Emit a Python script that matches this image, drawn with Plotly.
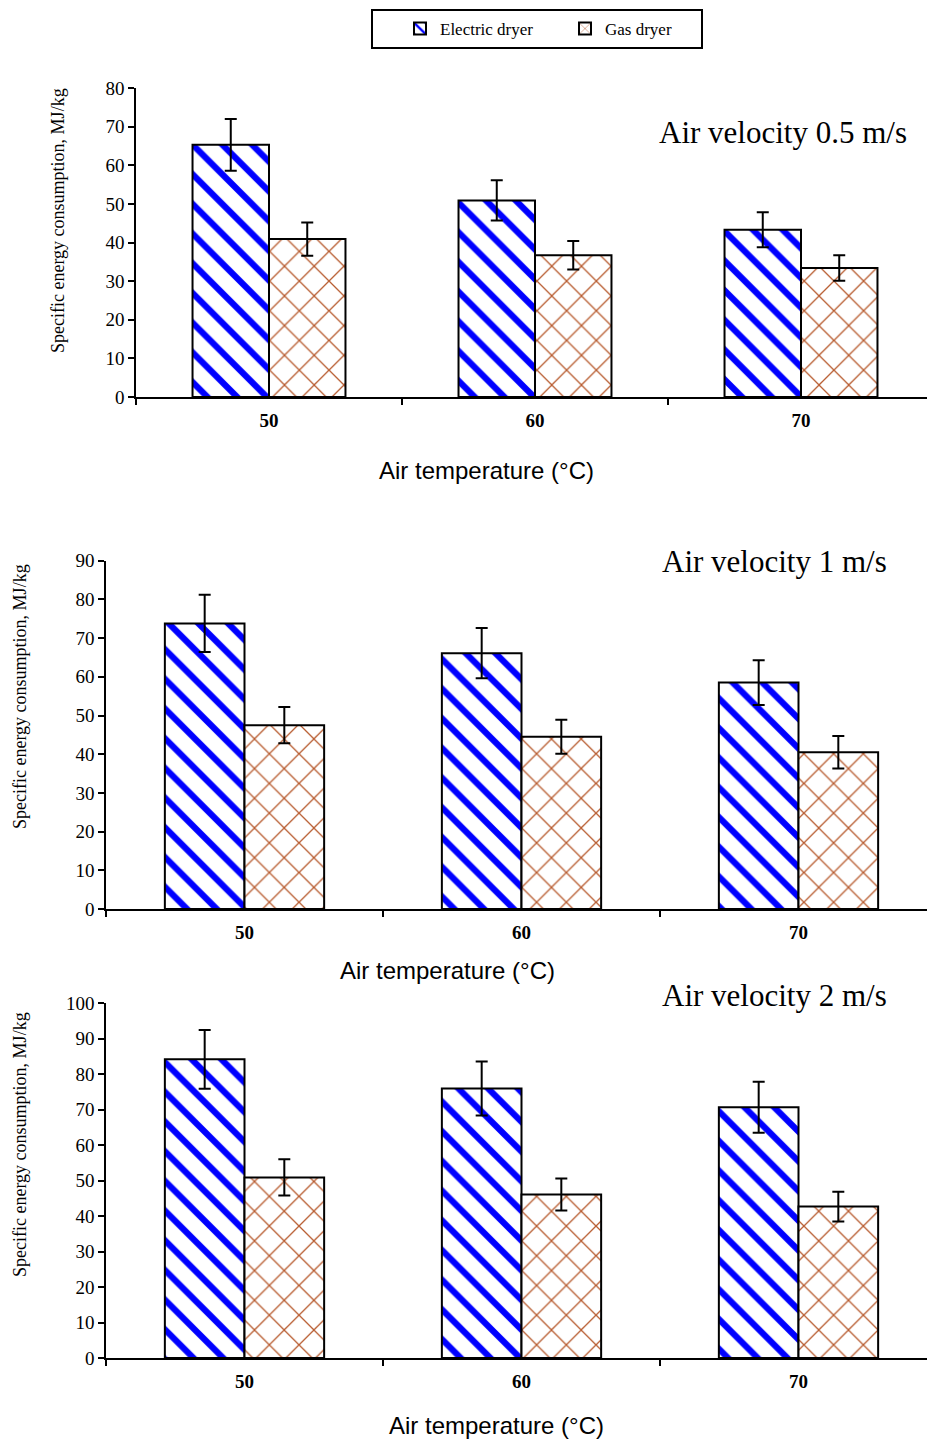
import plotly.graph_objects as go

# ---- data ----
temperatures = ["50", "60", "70"]
series_names = ["Electric dryer", "Gas dryer"]

electric_v05 = [65.3, 50.9, 43.3]
electric_v05_err = [6.7, 5.2, 4.5]
gas_v05 = [40.9, 36.7, 33.4]
gas_v05_err = [4.3, 3.7, 3.3]

electric_v1 = [73.8, 66.1, 58.5]
electric_v1_err = [7.4, 6.5, 5.8]
gas_v1 = [47.5, 44.5, 40.5]
gas_v1_err = [4.7, 4.4, 4.2]

electric_v2 = [84.2, 76.0, 70.7]
electric_v2_err = [8.3, 7.6, 7.2]
gas_v2 = [50.9, 46.1, 42.7]
gas_v2_err = [5.1, 4.5, 4.2]

panel_titles = ["Air velocity 0.5 m/s", "Air velocity 1 m/s", "Air velocity 2 m/s"]
y_title = "Specific energy consumption, MJ/kg"
x_title = "Air temperature (°C)"
y_max = [80, 90, 100]

# ---- figure geometry ----
W, H = 927, 1441
def px(x):
    return x / W
def py(y):
    return 1 - y / H

SERIF = "Liberation Serif, Times New Roman, serif"
SANS = "Liberation Sans, Arial, sans-serif"

electric_style = dict(color="white", line=dict(color="black", width=2),
                      pattern=dict(shape="\\", fgcolor="#0000FF", bgcolor="white",
                                   size=21, solidity=0.3, fillmode="replace"))
gas_style = dict(color="white", line=dict(color="black", width=2),
                 pattern=dict(shape="x", fgcolor="#B85C30", bgcolor="white",
                              size=21, solidity=0.12, fillmode="replace"))
err_style = dict(type="data", color="black", thickness=2, width=6, visible=True)

panels = [
    (electric_v05, electric_v05_err, gas_v05, gas_v05_err),
    (electric_v1, electric_v1_err, gas_v1, gas_v1_err),
    (electric_v2, electric_v2_err, gas_v2, gas_v2_err),
]

fig = go.Figure()
for i, (ev, ee, gv, ge) in enumerate(panels):
    sfx = "" if i == 0 else str(i + 1)
    fig.add_trace(go.Bar(x=temperatures, y=ev, name=series_names[0],
                         marker=electric_style, error_y=dict(array=ee, **err_style),
                         xaxis="x" + sfx, yaxis="y" + sfx, showlegend=(i == 0),
                         legendgroup="e"))
    fig.add_trace(go.Bar(x=temperatures, y=gv, name=series_names[1],
                         marker=gas_style, error_y=dict(array=ge, **err_style),
                         xaxis="x" + sfx, yaxis="y" + sfx, showlegend=(i == 0),
                         legendgroup="g"))

# panel layout: (y-axis pixel x, top pixel, bottom pixel, category width px)
geo = [(136, 88, 397, 266), (106, 560.7, 909, 277), (106, 1003.3, 1358, 277)]

layout = dict(width=W, height=H,
              margin=dict(l=0, r=0, t=0, b=0, pad=0, autoexpand=False),
              plot_bgcolor="white", paper_bgcolor="white",
              barmode="group", bargap=0.425, bargroupgap=0,
              legend=dict(orientation="h", x=px(537), y=py(29), xanchor="center",
                          yanchor="middle", bordercolor="black", borderwidth=2,
                          font=dict(family=SERIF, size=17, color="black"),
                          entrywidth=91, indentation=29, bgcolor="white"))

for i, (ax_x, top, bot, cw) in enumerate(geo):
    sfx = "" if i == 0 else str(i + 1)
    xr_end = -0.5 + (W - ax_x) / cw
    layout["xaxis" + sfx] = dict(domain=[px(ax_x), 1], anchor="y" + sfx, type="category",
                                 range=[-0.5, xr_end], showline=True, linecolor="black",
                                 linewidth=1.5, ticks="outside", ticklen=6, tickwidth=1.5,
                                 tickcolor="black", tickson="boundaries", showgrid=False,
                                 ticklabelstandoff=5, automargin=False,
                                 tickfont=dict(family=SERIF, size=19, color="black",
                                               weight="bold"))
    layout["yaxis" + sfx] = dict(domain=[py(bot), py(top)], anchor="x" + sfx,
                                 range=[0, y_max[i]], dtick=10, showline=True,
                                 linecolor="black", linewidth=1.5, ticks="outside",
                                 ticklen=6, tickwidth=1.5, tickcolor="black",
                                 showgrid=False, zeroline=False, automargin=False,
                                 tickfont=dict(family=SERIF, size=19, color="black"))

fig.update_layout(**layout)

annotations = []
ytitle_pos = [(58, 221), (20, 697), (20, 1145)]
xtitle_pos = [(486, 471), (447, 970), (496, 1425)]
ptitle_pos = [(783, 133), (774, 561), (774, 995)]
for i in range(3):
    annotations.append(dict(text=y_title, x=px(ytitle_pos[i][0]), y=py(ytitle_pos[i][1]),
                            xref="paper", yref="paper", showarrow=False, textangle=-90,
                            xanchor="center", yanchor="middle",
                            font=dict(family=SERIF, size=18, color="black")))
    annotations.append(dict(text=x_title, x=px(xtitle_pos[i][0]), y=py(xtitle_pos[i][1]),
                            xref="paper", yref="paper", showarrow=False,
                            xanchor="center", yanchor="middle",
                            font=dict(family=SANS, size=24, color="black")))
    annotations.append(dict(text=panel_titles[i], x=px(ptitle_pos[i][0]), y=py(ptitle_pos[i][1]),
                            xref="paper", yref="paper", showarrow=False,
                            xanchor="center", yanchor="middle",
                            font=dict(family=SERIF, size=31, color="black")))
fig.update_layout(annotations=annotations)

fig.write_html("out.html",
               post_script="document.body.style.margin='0';document.body.style.padding='0';")
